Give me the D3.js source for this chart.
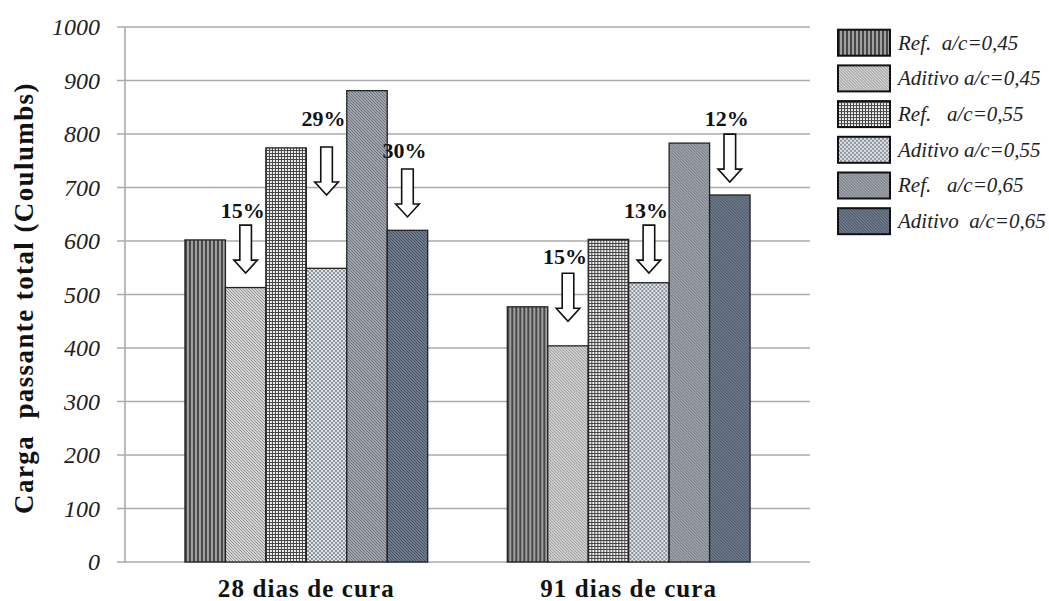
<!DOCTYPE html>
<html>
<head>
<meta charset="utf-8">
<script src="https://cdn.jsdelivr.net/npm/d3@7"></script>
<style>
  html, body { margin: 0; padding: 0; background: #fff; }
  svg { display: block; }
  svg text { white-space: pre; font-family: "Liberation Serif", "Times New Roman", Times, serif; }
</style>
</head>
<body>
<svg id="chart" width="1049" height="601"></svg>
<script>
// Curing ages (x categories)
const categories = ["28 dias de cura", "91 dias de cura"];

// Series: reference and additive mixes for each water/cement ratio
const seriesNames = [
  "Ref.  a/c=0,45",
  "Aditivo a/c=0,45",
  "Ref.   a/c=0,55",
  "Aditivo a/c=0,55",
  "Ref.   a/c=0,65",
  "Aditivo  a/c=0,65"
];

// Total charge passed (Coulombs), one value per category for each series
const ref045 = [602, 477];
const adt045 = [513, 404];
const ref055 = [774, 603];
const adt055 = [549, 522];
const ref065 = [881, 783];
const adt065 = [620, 686];
const seriesValues = [ref045, adt045, ref055, adt055, ref065, adt065];

// Y axis ticks
const yTicks = [0, 100, 200, 300, 400, 500, 600, 700, 800, 900, 1000];

// Reduction annotations: category, series index, label, arrow tip value, label value
const annCategory = [0, 0, 0, 1, 1, 1];
const annSeries   = [1, 3, 5, 1, 3, 5];
const annLabels   = ["15%", "29%", "30%", "15%", "13%", "12%"];
const annTip      = [540, 686, 645, 450, 540, 710];
const annLabelAt  = [643, 815, 755, 557, 643, 815];

const svg = d3.select("#chart");
const defs = svg.append("defs");

// ---- fill patterns ----
function pat(id, size, bg) {
  const p = defs.append("pattern").attr("id", id)
    .attr("patternUnits", "userSpaceOnUse")
    .attr("width", size).attr("height", size);
  p.append("rect").attr("width", size).attr("height", size).attr("fill", bg);
  return p;
}
// vertical stripes
const p0 = pat("p0", 4, "#a0a0a0");
p0.append("rect").attr("x", 0).attr("width", 2).attr("height", 4).attr("fill", "#474747");
// diagonal hatching
function diag(id, size, bg, fg, w) {
  const p = pat(id, size, bg);
  p.append("path").attr("d", `M0,0 L${size},${size} M${-size},0 L${size},${2*size} M0,${-size} L${2*size},${size}`)
    .attr("stroke", fg).attr("stroke-width", w);
  return p;
}
diag("p1", 3, "#d6d6d6", "#8e8e8e", 1);
// small grid
const p2 = pat("p2", 3, "#eeeeee");
p2.append("rect").attr("width", 3).attr("height", 1).attr("fill", "#474747");
p2.append("rect").attr("width", 1).attr("height", 3).attr("fill", "#474747");
// small checker
const p3 = pat("p3", 4, "#dfe3e8");
p3.append("rect").attr("width", 2).attr("height", 2).attr("fill", "#8d939c");
p3.append("rect").attr("x", 2).attr("y", 2).attr("width", 2).attr("height", 2).attr("fill", "#8d939c");
// fine diagonal mid grey
diag("p4", 3, "#a2a6ae", "#6c7079", 1);
// fine diagonal slate
diag("p5", 3, "#6f7c8e", "#47505e", 1);
const fills = ["url(#p0)", "url(#p1)", "url(#p2)", "url(#p3)", "url(#p4)", "url(#p5)"];

// ---- scales ----
const plotLeft = 125, plotRight = 810, plotTop = 27, plotBottom = 562;
const y = d3.scaleLinear().domain([0, 1000]).range([plotBottom, plotTop]);
const x0 = d3.scaleBand().domain(categories).range([plotLeft, plotRight])
  .paddingInner(0.247).paddingOuter(0.186);
const x1 = d3.scaleBand().domain(d3.range(seriesNames.length)).range([0, x0.bandwidth()]).padding(0);

// ---- grid + axes ----
const gridCol = "#ababab";
svg.append("g").selectAll("line").data(yTicks).join("line")
  .attr("x1", plotLeft - 8).attr("x2", plotRight)
  .attr("y1", d => y(d)).attr("y2", d => y(d))
  .attr("stroke", gridCol).attr("stroke-width", 1.6);
svg.append("line").attr("x1", plotLeft).attr("x2", plotLeft)
  .attr("y1", plotTop).attr("y2", plotBottom)
  .attr("stroke", gridCol).attr("stroke-width", 1.6);

const yAxis = d3.axisLeft(y).tickValues(yTicks).tickFormat(d3.format("d")).tickSize(0).tickPadding(0);
const ya = svg.append("g").attr("transform", `translate(${plotLeft - 25},0)`).call(yAxis)
  .attr("font-family", null).attr("font-size", null);
ya.select(".domain").remove();
ya.selectAll("text")
  .attr("font-style", "italic")
  .attr("font-size", 24).attr("fill", "#222").attr("dy", "0.33em");

// ---- bars ----
const groups = svg.append("g").selectAll("g").data(categories).join("g")
  .attr("transform", d => `translate(${x0(d)},0)`);
groups.selectAll("rect")
  .data((d, ci) => seriesValues.map((vals, si) => ({ si, v: vals[ci] })))
  .join("rect")
  .attr("x", d => x1(d.si)).attr("width", x1.bandwidth())
  .attr("y", d => y(d.v)).attr("height", d => y(0) - y(d.v))
  .attr("fill", d => fills[d.si])
  .attr("stroke", "#222").attr("stroke-width", 1.3);

// ---- category labels ----
svg.append("g").selectAll("text").data(categories).join("text")
  .attr("x", d => x0(d) + x0.bandwidth() / 2).attr("y", 597)
  .attr("text-anchor", "middle")
  .attr("font-weight", "bold")
  .attr("font-size", 25).attr("letter-spacing", 1.1).attr("fill", "#111")
  .text(d => d);

// ---- y title ----
svg.append("text")
  .attr("transform", `translate(33,298) rotate(-90)`)
  .attr("text-anchor", "middle")
  .attr("font-weight", "bold")
  .attr("font-size", 27).attr("letter-spacing", 1.4).attr("fill", "#111")
  .text("Carga  passante total (Coulumbs)");

// ---- reduction arrows ----
const arrowLen = 48, shaftHW = 5.8, headHW = 11.8, headLen = 13;
const ann = annLabels.map((lab, i) => ({
  cx: x0(categories[annCategory[i]]) + x1(annSeries[i]) + x1.bandwidth() / 2,
  tip: y(annTip[i]), lab, ly: y(annLabelAt[i])
}));
const ag = svg.append("g");
ag.selectAll("path").data(ann).join("path")
  .attr("d", d => {
    const c = d.cx, t = d.tip, s = t - arrowLen, h = t - headLen;
    return `M${c - shaftHW},${s}L${c + shaftHW},${s}L${c + shaftHW},${h}L${c + headHW},${h}` +
      `L${c},${t}L${c - headHW},${h}L${c - shaftHW},${h}Z`;
  })
  .attr("fill", "#fff").attr("stroke", "#111").attr("stroke-width", 1.6)
  .attr("stroke-linejoin", "miter");
ag.selectAll("text").data(ann).join("text")
  .attr("x", d => d.cx - 3).attr("y", d => d.ly)
  .attr("text-anchor", "middle")
  .attr("font-weight", "bold")
  .attr("font-size", 22).attr("fill", "#111")
  .text(d => d.lab);

// ---- legend ----
const lg = svg.append("g").selectAll("g").data(seriesNames).join("g")
  .attr("transform", (d, i) => `translate(838,${42.7 + i * 35.7})`);
lg.append("rect").attr("x", 0).attr("y", -13).attr("width", 52).attr("height", 26)
  .attr("fill", (d, i) => fills[i]).attr("stroke", "#111").attr("stroke-width", 2);
lg.append("text").attr("x", 60).attr("y", 0).attr("dy", "0.33em")
  .attr("font-style", "italic")
  .attr("font-size", 21).attr("fill", "#222")
  .text(d => d);
</script>
</body>
</html>
